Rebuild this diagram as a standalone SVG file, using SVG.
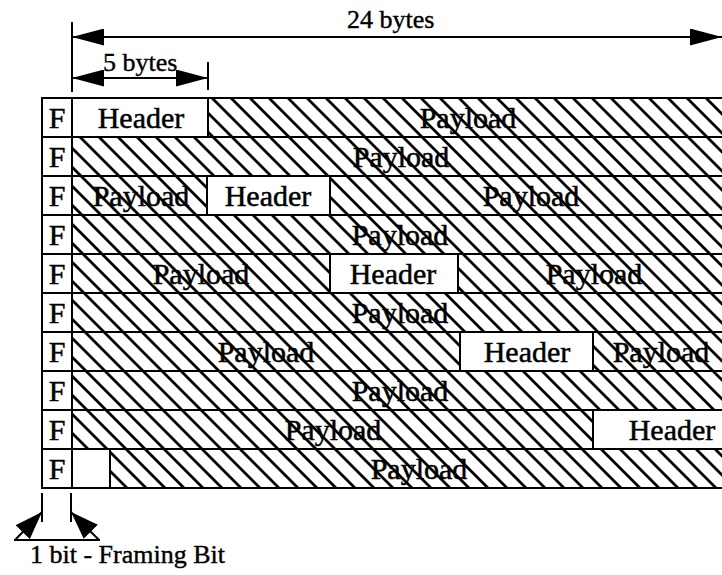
<svg xmlns="http://www.w3.org/2000/svg" width="722" height="575" viewBox="0 0 722 575">
<style>
.t{font-family:"Liberation Serif","Times New Roman",serif;font-size:30px;fill:#000;stroke:#000;stroke-width:0.5;text-anchor:middle}
.d{font-family:"Liberation Serif","Times New Roman",serif;font-size:26px;fill:#000;stroke:#000;stroke-width:0.4}
.h{fill:url(#hatch);stroke:#000;stroke-width:2}
.w{fill:#fff;stroke:#000;stroke-width:2}
.ln{stroke:#000;stroke-width:2;fill:none}
</style>
<defs>
<pattern id="hatch" patternUnits="userSpaceOnUse" width="19" height="19">
<rect width="19" height="19" fill="#fff"/>
<path d="M-5,-5 L24,24 M-5,14 L5,24 M14,-5 L24,5" stroke="#000" stroke-width="2.8"/>
</pattern>
<marker id="ah" viewBox="0 0 32 17" refX="32" refY="8.5" markerWidth="32" markerHeight="17" markerUnits="userSpaceOnUse" orient="auto-start-reverse">
<path d="M0,0 L32,8.5 L0,17 Z" fill="#000"/>
</marker>
<marker id="ah2" viewBox="0 0 28 20" refX="28" refY="10" markerWidth="28" markerHeight="20" markerUnits="userSpaceOnUse" orient="auto">
<path d="M0,0 L28,10 L0,20 Z" fill="#000"/>
</marker>
</defs>
<rect width="722" height="575" fill="#fff"/>

<g id="row1">
<rect class="w" x="42" y="98" width="30" height="39"/><text class="t" x="57" y="128">F</text>
<rect class="w" x="72" y="98" width="136" height="39"/><text class="t" x="141" y="128">Header</text>
<rect class="h" x="208" y="98" width="522" height="39"/><text class="t" x="468" y="128">Payload</text>
</g>
<g id="row2">
<rect class="w" x="42" y="137" width="30" height="39"/><text class="t" x="57" y="167">F</text>
<rect class="h" x="72" y="137" width="658" height="39"/><text class="t" x="401" y="167">Payload</text>
</g>
<g id="row3">
<rect class="w" x="42" y="176" width="30" height="39"/><text class="t" x="57" y="206">F</text>
<rect class="h" x="72" y="176" width="135" height="39"/><text class="t" x="141" y="206">Payload</text>
<rect class="w" x="207" y="176" width="123" height="39"/><text class="t" x="268" y="206">Header</text>
<rect class="h" x="330" y="176" width="400" height="39"/><text class="t" x="531" y="206">Payload</text>
</g>
<g id="row4">
<rect class="w" x="42" y="215" width="30" height="39"/><text class="t" x="57" y="245">F</text>
<rect class="h" x="72" y="215" width="658" height="39"/><text class="t" x="400" y="245">Payload</text>
</g>
<g id="row5">
<rect class="w" x="42" y="254" width="30" height="39"/><text class="t" x="57" y="284">F</text>
<rect class="h" x="72" y="254" width="258" height="39"/><text class="t" x="201" y="284">Payload</text>
<rect class="w" x="330" y="254" width="128" height="39"/><text class="t" x="393" y="284">Header</text>
<rect class="h" x="458" y="254" width="272" height="39"/><text class="t" x="594" y="284">Payload</text>
</g>
<g id="row6">
<rect class="w" x="42" y="293" width="30" height="39"/><text class="t" x="57" y="323">F</text>
<rect class="h" x="72" y="293" width="658" height="39"/><text class="t" x="400" y="323">Payload</text>
</g>
<g id="row7">
<rect class="w" x="42" y="332" width="30" height="39"/><text class="t" x="57" y="362">F</text>
<rect class="h" x="72" y="332" width="388" height="39"/><text class="t" x="266" y="362">Payload</text>
<rect class="w" x="460" y="332" width="133" height="39"/><text class="t" x="527" y="362">Header</text>
<rect class="h" x="593" y="332" width="137" height="39"/><text class="t" x="661" y="362">Payload</text>
</g>
<g id="row8">
<rect class="w" x="42" y="371" width="30" height="39"/><text class="t" x="57" y="401">F</text>
<rect class="h" x="72" y="371" width="658" height="39"/><text class="t" x="400" y="401">Payload</text>
</g>
<g id="row9">
<rect class="w" x="42" y="410" width="30" height="39"/><text class="t" x="57" y="440">F</text>
<rect class="h" x="72" y="410" width="521" height="39"/><text class="t" x="333" y="440">Payload</text>
<rect class="w" x="593" y="410" width="137" height="39"/><text class="t" x="672" y="440">Header</text>
</g>
<g id="row10">
<rect class="w" x="42" y="449" width="30" height="39"/><text class="t" x="57" y="479">F</text>
<rect class="w" x="72" y="449" width="38" height="39"/>
<rect class="h" x="110" y="449" width="620" height="39"/><text class="t" x="419" y="479">Payload</text>
</g>

<g id="connectors">
<line class="ln" x1="72" y1="22" x2="72" y2="92"/>
<line class="ln" x1="72" y1="37" x2="722" y2="37" marker-start="url(#ah)" marker-end="url(#ah)"/>
<line class="ln" x1="208" y1="62" x2="208" y2="90"/>
<line class="ln" x1="72" y1="78" x2="208" y2="78" marker-start="url(#ah)" marker-end="url(#ah)"/>
<line class="ln" x1="42" y1="493" x2="42" y2="522"/>
<line class="ln" x1="71" y1="493" x2="71" y2="522"/>
<line class="ln" x1="14" y1="540" x2="100" y2="540"/>
<line class="ln" x1="15" y1="540" x2="42" y2="512" marker-end="url(#ah2)"/>
<line class="ln" x1="99" y1="540" x2="71" y2="512" marker-end="url(#ah2)"/>
</g>

<g id="labels">
<text class="d" x="347" y="28">24 bytes</text>
<text class="d" x="103" y="71">5 bytes</text>
<text class="d" x="30" y="563">1 bit - Framing Bit</text>
</g>
</svg>
